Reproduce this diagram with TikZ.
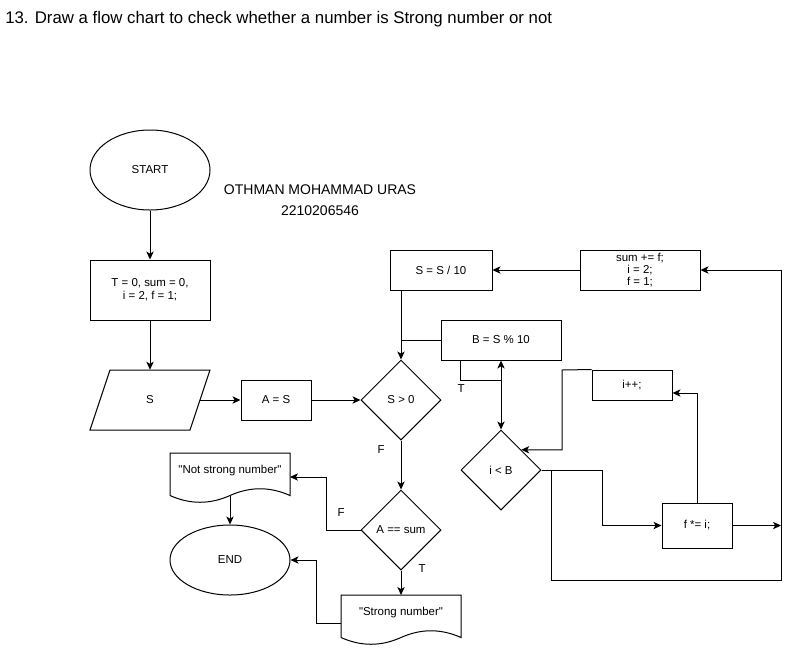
\documentclass[tikz,border=0pt]{standalone}
\usepackage{fontspec}
\setmainfont{Liberation Sans}
\usetikzlibrary{shapes.geometric,arrows.meta,calc}
\newcommand\mydoc[3]{%
 \draw[line width=0.75pt] (#1,#2) -- ({#1+#3},#2) -- ({#1+#3},{#2+42.5})
   .. controls ({#1+5*#3/6},{#2+33.5}) and ({#1+2*#3/3},{#2+33.5}) .. ({#1+#3/2},{#2+42.5})
   .. controls ({#1+#3/3},{#2+51.5}) and ({#1+#3/6},{#2+51.5}) .. (#1,{#2+42.5}) -- cycle;}
\begin{document}
\begin{tikzpicture}[x=0.75pt,y=-0.75pt,
  every node/.style={font=\fontsize{8.6pt}{10pt}\selectfont, inner sep=0pt, align=center},
  proc/.style={draw, line width=0.75pt, rectangle},
  term/.style={draw, line width=0.75pt, ellipse},
  dec/.style={draw, line width=0.75pt, diamond, minimum width=60pt, minimum height=60pt},
  lbl/.style={font=\fontsize{8.6pt}{10pt}\selectfont},
  arr/.style={line width=0.75pt, -{Stealth[length=6pt,width=5.5pt,inset=1.6pt]}},
  ln/.style={line width=0.75pt}]
\useasboundingbox (0,0) rectangle (791,651);
\fill[white] (0,0) rectangle (791,651);

\node[anchor=base west, font=\fontsize{12.6pt}{15pt}\selectfont] (title) at (5,23) {13. Draw a flow chart to check whether a number is Strong number or not};

\node[term, minimum width=90pt, minimum height=60pt] (start) at (150,170) {START};
\node[font=\fontsize{10.5pt}{15.75pt}\selectfont] (author) at (320,200.5) {OTHMAN MOHAMMAD URAS\\2210206546};

\node[proc, minimum width=90pt, minimum height=45pt] (init) at (150,290) {T = 0, sum = 0,\\ i = 2, f = 1;};

% parallelogram input
\node[minimum width=75pt, minimum height=45pt] (inp) at (150,400) {S};
\draw[ln] (110,370) -- (210,370) -- (190,430) -- (90,430) -- cycle;

\node[proc, minimum width=52.5pt, minimum height=30pt] (as) at (276,400) {A = S};
\node[dec] (s0) at (401,400) {S \textgreater{} 0};

\node[proc, minimum width=76.5pt, minimum height=30pt] (div) at (441,270) {S = S / 10};
\node[proc, minimum width=90pt, minimum height=30pt, font=\fontsize{8.6pt}{8.75pt}\selectfont] (sum) at (640,270) {sum += f;\\ i = 2;\\ f = 1;};
\node[proc, minimum width=90pt, minimum height=30pt] (mod) at (501,340) {B = S \% 10};
\node[proc, minimum width=60pt, minimum height=22.5pt] (ipp) at (632,385) {i++;};
\node[dec] (ib) at (501,470) {i \textless{} B};
\node[proc, minimum width=52.5pt, minimum height=33.75pt] (fi) at (697,525.5) {f *= i;};

\node[dec] (eq) at (401,530) {A == sum};
\node[term, minimum width=90pt, minimum height=52.5pt] (endn) at (230,560) {END};

% documents
\mydoc{170}{453}{120}
\node (nsn) at (230,471) {\textquotedbl Not strong number\textquotedbl};
\mydoc{341}{595}{120}
\node (sn) at (401,613) {\textquotedbl Strong number\textquotedbl};

\coordinate (nsnR) at (290,477);
\coordinate (nsnB) at (230,496);
\coordinate (snL) at (341,623);
\coordinate (j) at (501,380);
\coordinate (rt) at (781,525.5);

% connectors
\draw[arr] (start.south) -- (init.north);
\draw[arr] (init.south) -- (inp.north);
\draw[arr] (inp.east) -- (as.west);
\draw[arr] (as.east) -- (s0.west);
\draw[arr] (s0.south) -- (eq.north);
\draw[arr] (eq.west) -- (326,530) |- (nsnR);
\draw[arr] (nsnB) -- (endn.north);
\draw[arr] (eq.south) -- (401,595);
\draw[arr] (snL) -- (316,623) |- (endn.east);

\draw[arr] (sum.west) -- (div.east);
\draw[arr] (s0.north |- div.south) -- (s0.north);
\draw[ln] (mod.west) -- (s0.north |- mod.west);
\draw[ln] ([xshift=15pt]mod.south west) |- (j);
\draw[arr] (j) -- (mod.south);
\draw[arr] (j) -- (ib.north);

\draw[arr] (ipp.north west) -- (562,370) |- (ib.north east);
\draw[arr] (ib.east) -- (602,470) |- (fi.west);
\draw[ln] (ib.east) -- (551,470) |- (781,580) -- (781,525.5);
\draw[arr] (781,525.5) |- (sum.east);
\draw[arr] (fi.east) -- (rt);
\draw[arr] (fi.north) |- ([yshift=-6pt]ipp.east);

% labels
\node[lbl] (lF1) at (381,450) {F};
\node[lbl] (lT1) at (461,389) {T};
\node[lbl] (lF2) at (341,513) {F};
\node[lbl] (lT2) at (422,569) {T};
\end{tikzpicture}
\end{document}
